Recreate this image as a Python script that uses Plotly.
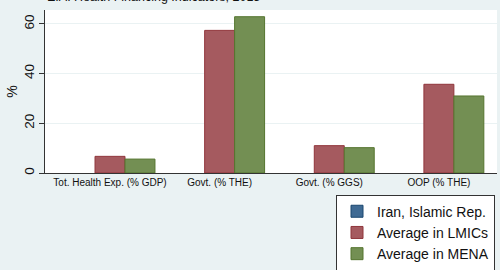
import plotly.graph_objects as go

categories = ["Tot. Health Exp. (% GDP)", "Govt. (% THE)", "Govt. (% GGS)", "OOP (% THE)"]
iran = [None, None, None, None]
lmics = [6.7, 57.4, 11.0, 35.7]
mena = [5.6, 62.9, 10.2, 31.0]
y_ticks = [0, 20, 40, 60]

xpos = list(range(len(categories)))
BG = "#EAF2F3"

fig = go.Figure()
series = [
    ("Iran, Islamic Rep.", iran, "#3F6A93", "#1A476F"),
    ("Average in LMICs", lmics, "#A55A5F", "#90353B"),
    ("Average in MENA", mena, "#738F53", "#55752F"),
]
for name, vals, fill, edge in series:
    fig.add_trace(go.Bar(
        x=xpos, y=vals, name=name, legendgroup=name,
        marker=dict(color=fill, line=dict(color=edge, width=1)),
    ))

fig.update_layout(
    width=500, height=270,
    margin=dict(l=45, r=3, t=10, b=97, autoexpand=False),
    paper_bgcolor=BG, plot_bgcolor="white",
    barmode="group", bargap=0.18, bargroupgap=0,
    hovermode=False,
    font=dict(family="Liberation Sans, Arial, sans-serif", color="#222"),
    showlegend=True,
    legend=dict(
        x=(336 - 45) / 452, y=(173.3 - 195) / 163.3,
        xanchor="left", yanchor="top",
        bgcolor="white", bordercolor="#333", borderwidth=1,
        font=dict(size=14, color="#111"), tracegroupgap=9,
        traceorder="normal",
    ),
    xaxis=dict(
        tickmode="array", tickvals=xpos, ticktext=categories,
        range=[-0.593, 3.53], showgrid=False, showline=True,
        linecolor="#333", linewidth=1, ticks="", zeroline=False,
        tickfont=dict(size=10, color="#111"), tickangle=0,
    ),
    yaxis=dict(
        range=[0, 65.6], tickvals=y_ticks, showgrid=True, gridcolor=BG,
        gridwidth=1, showline=True, linecolor="#333", linewidth=1,
        ticks="outside", ticklen=5, tickcolor="#333", tickangle=-90,
        tickfont=dict(size=13.5, color="#111"), zeroline=False,
        title=dict(text="%", font=dict(size=14, color="#111"), standoff=0),
    ),
    annotations=[dict(
        text="E.A. Health Financing Indicators, 2015",
        xref="paper", yref="paper", x=0.0, y=(173.3 - 6) / 163.3,
        xanchor="left", yanchor="bottom", showarrow=False,
        font=dict(size=12.5, color="#111"),
    )],
)

fig.write_html(
    "out.html",
    config={"displayModeBar": False, "staticPlot": True},
    post_script="document.body.style.margin='0px';document.body.style.background='" + BG + "';",
)
